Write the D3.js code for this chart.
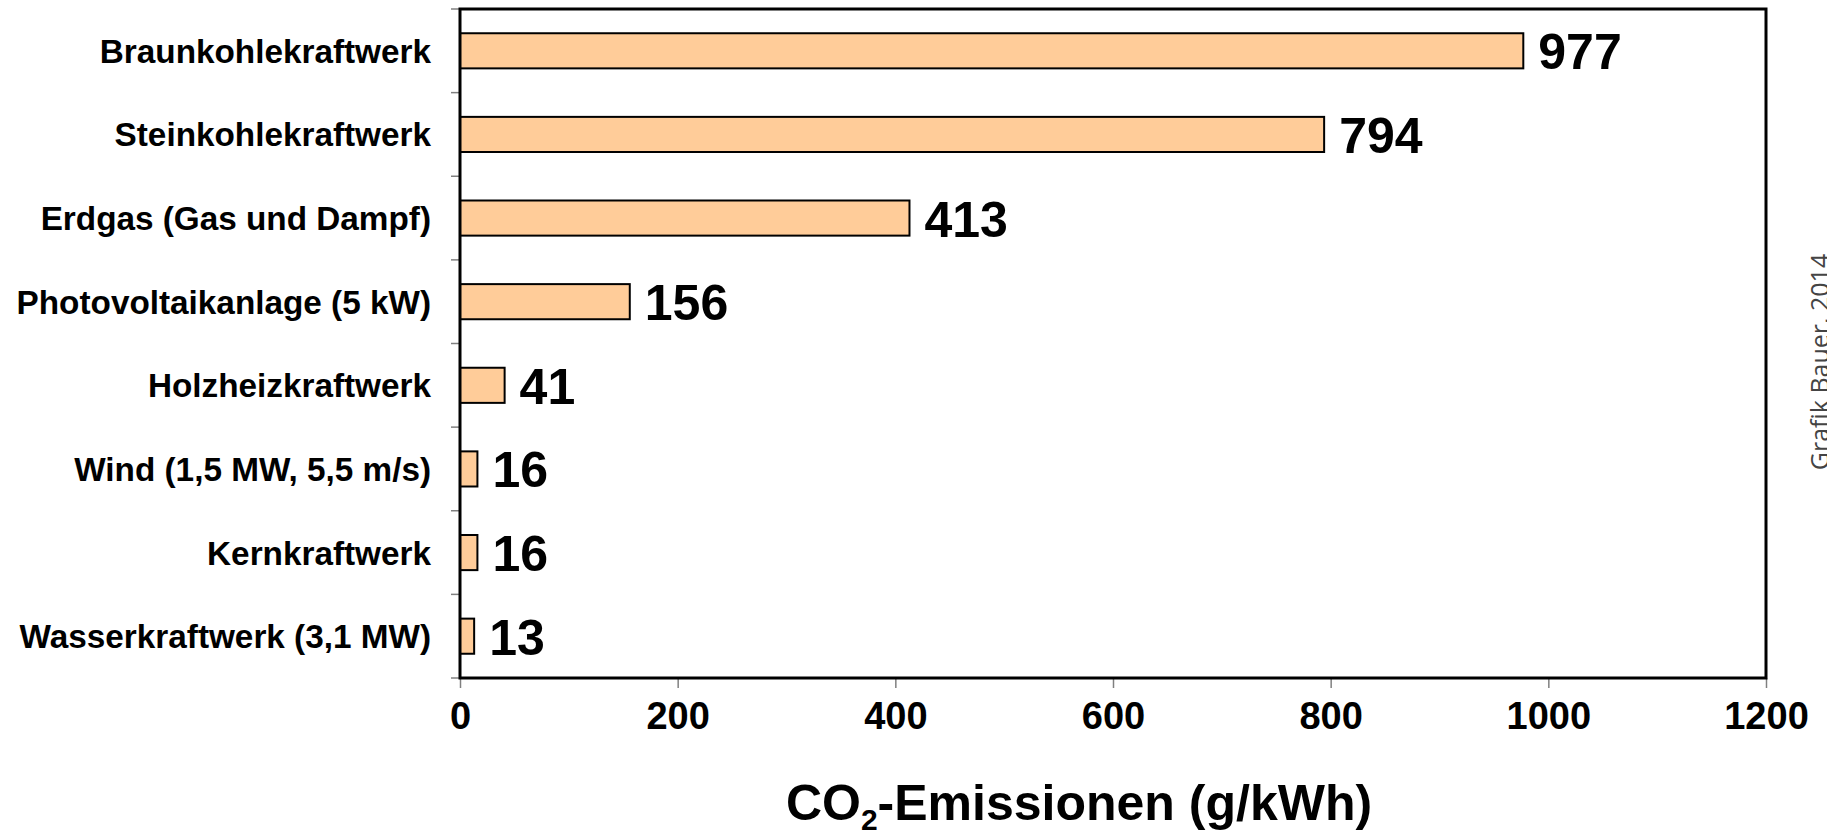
<!DOCTYPE html>
<html>
<head>
<meta charset="utf-8">
<script src="https://cdn.jsdelivr.net/npm/d3@7"></script>
<style>
  body { margin: 0; background: #fff; }
  svg { display: block; font-family: "Liberation Sans", Arial, sans-serif; }
</style>
</head>
<body>
<div id="chart"></div>
<script>
// data
const categories = [
    "Braunkohlekraftwerk",
    "Steinkohlekraftwerk",
    "Erdgas (Gas und Dampf)",
    "Photovoltaikanlage (5 kW)",
    "Holzheizkraftwerk",
    "Wind (1,5 MW, 5,5 m/s)",
    "Kernkraftwerk",
    "Wasserkraftwerk (3,1 MW)"
];
const values = [977, 794, 413, 156, 41, 16, 16, 13];
const xTicks = [0, 200, 400, 600, 800, 1000, 1200];
const credit = "Grafik Bauer, 2014";

/*********************** Plot Below *********************/
const W = 1827, H = 833;
const margin = { top: 9, right: 61, bottom: 155, left: 460 };
const width = W - margin.left - margin.right,
    height = H - margin.top - margin.bottom;

const svg = d3.select("#chart").append("svg")
    .attr("width", W)
    .attr("height", H);

const x = d3.scaleLinear()
    .domain([0, 1200])
    .range([0, width]);

const y = d3.scaleBand()
    .domain(categories)
    .range([0, height])
    .paddingInner(0.58)
    .paddingOuter(0.29);

const g = svg.append("g")
    .attr("transform", "translate(" + margin.left + "," + margin.top + ")");

// y ticks at band boundaries, pointing outward
const step = y.step();
const boundaries = d3.range(categories.length + 1).map(i => i * step);
g.selectAll(".ytick")
    .data(boundaries)
    .enter().append("line")
    .attr("class", "ytick")
    .attr("x1", -9).attr("x2", 0)
    .attr("y1", d => d).attr("y2", d => d)
    .style("stroke", "#808080")
    .style("stroke-width", "1.5px");

// x axis
const xAxis = d3.axisBottom(x)
    .tickValues(xTicks)
    .tickSize(10)
    .tickPadding(14)
    .tickFormat(d3.format("d"));

const xg = g.append("g")
    .attr("transform", "translate(0," + height + ")")
    .call(xAxis);
xg.select(".domain").remove();
xg.selectAll(".tick line")
    .style("stroke", "#808080")
    .style("stroke-width", "1.5px");
xg.selectAll(".tick text")
    .style("font-size", "38px")
    .style("font-weight", "bold")
    .style("fill", "#000");

// category labels
g.selectAll(".cat")
    .data(categories)
    .enter().append("text")
    .attr("class", "cat")
    .attr("x", -29)
    .attr("y", d => y(d) + y.bandwidth() / 2)
    .attr("dy", "0.36em")
    .attr("text-anchor", "end")
    .style("font-size", "33.3px")
    .style("font-weight", "bold")
    .text(d => d);

// bars
g.selectAll(".bar")
    .data(values)
    .enter().append("rect")
    .attr("class", "bar")
    .attr("x", x(0))
    .attr("y", (d, i) => y(categories[i]))
    .attr("width", d => x(d) - x(0))
    .attr("height", y.bandwidth())
    .style("fill", "#FFCC99")
    .style("stroke", "#000")
    .style("stroke-width", "2px");

// value labels
g.selectAll(".val")
    .data(values)
    .enter().append("text")
    .attr("class", "val")
    .attr("x", d => x(d) + 15)
    .attr("y", (d, i) => y(categories[i]) + y.bandwidth() / 2)
    .attr("dy", "0.37em")
    .style("font-size", "50px")
    .style("font-weight", "bold")
    .text(d => d);

// frame
g.append("rect")
    .attr("width", width)
    .attr("height", height)
    .style("fill", "none")
    .style("stroke", "#000")
    .style("stroke-width", "3px");

// x axis title
const title = svg.append("text")
    .attr("x", 1079)
    .attr("y", 820)
    .attr("text-anchor", "middle")
    .style("font-size", "50px")
    .style("font-weight", "bold");
title.append("tspan").text("CO");
title.append("tspan").attr("dy", 10).style("font-size", "30px").text("2");
title.append("tspan").attr("dy", -10).text("-Emissionen (g/kWh)");

// credit, rotated
svg.append("text")
    .attr("transform", "translate(1829,362) rotate(-90)")
    .attr("text-anchor", "middle")
    .style("font-family", "'Open Sans', sans-serif")
    .style("font-size", "25px")
    .style("fill", "#444")
    .text(credit);
</script>
</body>
</html>
